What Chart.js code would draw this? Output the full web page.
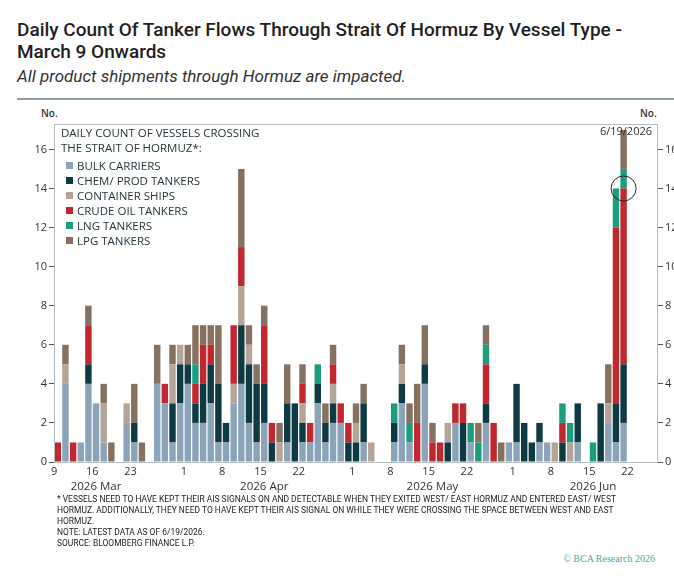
<!DOCTYPE html>
<html>
<head>
<meta charset="utf-8">
<script src="https://cdn.jsdelivr.net/npm/chart.js@4.4.1/dist/chart.umd.min.js"></script>
<style>
  body { margin: 0; width: 674px; height: 579px; background: #fff; position: relative; overflow: hidden; font-family: Roboto, sans-serif; }
  .title { position: absolute; left: 17px; top: 19px; font: 500 19px Roboto; line-height: 22px; color: #1f1f1f; white-space: nowrap; }
  .sub { position: absolute; left: 17px; top: 66px; font: italic 17px Roboto; line-height: 20px; color: #333; white-space: nowrap; }
  .rule { position: absolute; left: 17px; right: 0; top: 98px; height: 2px; background: #8e9ea4; }
  .no { position: absolute; top: 106px; font: 600 10px "Open Sans"; color: #333; }
  #wrap { position: absolute; left: 0; top: 100px; width: 674px; height: 400px; }
  .legend { position: absolute; left: 61px; top: 126px; font: 11.5px "Open Sans"; color: #26363d; line-height: 14.5px; white-space: nowrap; }
  .legend .item { position: relative; padding-left: 16px; height: 15px; line-height: 15px; }
  .legend .sw { position: absolute; left: 5px; top: 4px; width: 7px; height: 7px; }
  .legend .head { margin-bottom: 3px; }
  .foot { position: absolute; left: 57px; top: 494px; font: 9px Roboto, sans-serif; line-height: 11px; color: #222; white-space: nowrap; transform-origin: 0 0; }
  .foot span { display: block; }
  .bca { position: absolute; right: 19px; top: 553px; font: 10px "Liberation Serif", serif; color: #3fae9f; }
</style>
</head>
<body>
<div class="title">Daily Count Of Tanker Flows Through Strait Of Hormuz By Vessel Type -<br>March 9 Onwards</div>
<div class="sub">All product shipments through Hormuz are impacted.</div>
<div class="rule"></div>
<div class="no" style="left:41px">No.</div>
<div class="no" style="left:640px">No.</div>
<div id="wrap"><canvas id="chart" width="674" height="400"></canvas></div>
<div class="legend" id="legend">
  <div class="head">DAILY COUNT OF VESSELS CROSSING<br>THE STRAIT OF HORMUZ*:</div>
</div>
<div class="foot" id="foot"><span id="foot1" style="display:inline-block">* VESSELS NEED TO HAVE KEPT THEIR AIS SIGNALS ON AND DETECTABLE WHEN THEY EXITED WEST/ EAST HORMUZ AND ENTERED EAST/ WEST</span><span>HORMUZ. ADDITIONALLY, THEY NEED TO HAVE KEPT THEIR AIS SIGNAL ON WHILE THEY WERE CROSSING THE SPACE BETWEEN WEST AND EAST</span><span>HORMUZ.</span><span>NOTE: LATEST DATA AS OF 6/19/2026.</span><span>SOURCE: BLOOMBERG FINANCE L.P.</span></div>
<div class="bca">© BCA Research 2026</div>
<script>
// business days, Mar 9 - Jun 25 2026
const days = [
  "03-09","03-10","03-11","03-12","03-13","03-16","03-17","03-18","03-19","03-20",
  "03-23","03-24","03-25","03-26","03-27","03-30","03-31","04-01","04-02","04-03",
  "04-06","04-07","04-08","04-09","04-10","04-13","04-14","04-15","04-16","04-17",
  "04-20","04-21","04-22","04-23","04-24","04-27","04-28","04-29","04-30","05-01",
  "05-04","05-05","05-06","05-07","05-08","05-11","05-12","05-13","05-14","05-15",
  "05-18","05-19","05-20","05-21","05-22","05-25","05-26","05-27","05-28","05-29",
  "06-01","06-02","06-03","06-04","06-05","06-08","06-09","06-10","06-11","06-12",
  "06-15","06-16","06-17","06-18","06-19","06-22","06-23","06-24","06-25"
];

const bulk = [
  0,4,0,1,4,3,1,0,0,2, 1,0,0,4,3,1,3,4,2,2, 3,1,1,3,4,2,1,2,0,0,
  1,0,1,1,3,1,2,2,0,0, 1,0,0,0,1,3,1,0,4,0, 0,0,2,0,1,0,2,0,0,1,
  1,0,0,1,1,0,0,0,1,0, 0,0,2,1,2,0,0,0,0
];
const chem = [
  0,0,0,0,1,0,0,0,0,0, 1,0,0,0,0,2,2,1,1,2, 2,3,1,0,3,3,3,2,1,0,
  2,3,1,0,1,1,1,0,1,1, 2,0,0,0,1,1,0,0,1,0, 0,1,0,2,0,0,1,0,0,0,
  3,2,1,1,0,0,1,0,2,0, 0,3,0,2,3,0,0,0,0
];
const container = [
  0,1,0,0,0,0,2,0,0,1, 0,0,0,0,0,2,1,0,0,0, 0,0,0,1,2,1,0,0,0,1,
  0,0,1,0,0,0,1,0,0,1, 0,1,0,0,0,1,0,0,0,0, 0,1,0,0,0,0,0,0,0,0,
  0,0,0,0,0,1,0,1,0,0, 0,0,1,0,0,0,0,0,0
];
const crude = [
  1,0,1,0,2,0,0,0,0,0, 0,0,0,0,1,0,0,0,1,2, 1,0,0,3,2,0,0,3,1,0,
  0,0,1,1,0,0,1,1,1,0, 0,0,0,0,0,0,0,2,0,1, 1,0,1,1,0,0,2,2,0,0,
  0,0,0,0,0,0,1,0,0,0, 0,0,0,9,9,0,0,0,0
];
const lng = [
  0,0,0,0,0,0,0,0,0,0, 0,0,0,0,0,0,0,0,1,0, 0,0,0,0,0,0,0,0,0,0,
  0,0,0,0,1,0,0,0,0,0, 0,0,0,0,1,0,1,0,0,0, 0,0,0,0,1,1,1,0,0,0,
  0,0,0,0,0,0,1,1,0,0, 1,0,0,2,1,0,0,0,0
];
const lpg = [
  0,1,0,0,1,0,1,1,0,0, 2,1,0,2,0,1,0,1,2,1, 1,3,0,0,4,1,1,1,0,1,
  2,0,1,0,0,1,1,0,0,1, 1,0,0,0,0,1,1,2,2,1, 0,0,0,0,0,1,1,0,1,0,
  0,0,0,0,0,0,0,0,0,0, 0,0,2,0,2,0,0,0,0
];

const seriesNames = ["BULK CARRIERS", "CHEM/ PROD TANKERS", "CONTAINER SHIPS", "CRUDE OIL TANKERS", "LNG TANKERS", "LPG TANKERS"];
const seriesColors = ["#8ba4ba", "#0e3a43", "#b5a598", "#c1272d", "#1b9e7e", "#86705f"];
const tickDays = ["03-09","03-16","03-23","04-01","04-08","04-15","04-22","05-01","05-08","05-15","05-22","06-01","06-08","06-15","06-22"];
const monthLabels = ["2026 Mar", "2026 Apr", "2026 May", "2026 Jun"];
const monthAnchors = ["03-16", "04-15", "05-15", "06-15"];
const latestDay = "06-19";
const latestLabel = "6/19/2026";
const circledValue = 14;

const tickFont = { family: "Open Sans", size: 11 };
const textColor = "#333";

// footnote is set in a narrow face in the original, squeeze it to the same width
const foot = document.getElementById("foot");
const w1 = document.getElementById("foot1").getBoundingClientRect().width;
foot.style.transform = "scaleX(" + (559 / w1) + ")";

// legend (html)
const legendEl = document.getElementById("legend");
seriesNames.forEach((name, i) => {
  const row = document.createElement("div");
  row.className = "item";
  row.innerHTML = '<span class="sw" style="background:' + seriesColors[i] + '"></span>' + name;
  legendEl.appendChild(row);
});

// frame, month labels, latest date note and circle
const extras = {
  id: "extras",
  afterDraw(chart) {
    const { ctx, chartArea: a, scales } = chart;
    ctx.save();
    ctx.strokeStyle = "#b7bfc3";
    ctx.lineWidth = 1;
    ctx.strokeRect(a.left + 0.5, a.top + 0.5, a.right - a.left - 1, a.bottom - a.top);

    ctx.fillStyle = textColor;
    ctx.font = "11.5px 'Open Sans'";
    ctx.textAlign = "center";
    ctx.textBaseline = "middle";
    monthLabels.forEach((m, i) => {
      ctx.fillText(m, scales.x.getPixelForValue(days.indexOf(monthAnchors[i])), a.bottom + 25);
    });

    ctx.font = "11px 'Open Sans'";
    ctx.textAlign = "right";
    ctx.fillText(latestLabel, a.right - 6, a.top + 8);

    ctx.beginPath();
    ctx.strokeStyle = "#2a2a2a";
    ctx.arc(scales.x.getPixelForValue(days.indexOf(latestDay)), scales.y.getPixelForValue(circledValue), 12.5, 0, Math.PI * 2);
    ctx.stroke();
    ctx.restore();
  }
};

const yTicks = {
  stepSize: 2, includeBounds: false, padding: 2, font: tickFont, color: textColor
};

const ctx = document.getElementById("chart").getContext("2d");
const chart = new Chart(ctx, {
  type: "bar",
  data: {
    labels: days,
    datasets: [bulk, chem, container, crude, lng, lpg].map((d, i) => ({
      label: seriesNames[i],
      data: d,
      backgroundColor: seriesColors[i],
      borderWidth: 0,
      barPercentage: 0.84,
      categoryPercentage: 1,
      yAxisID: "y"
    }))
  },
  options: {
    responsive: false,
    animation: false,
    layout: { padding: { top: 24, left: 0, right: 0, bottom: 0 } },
    plugins: { legend: { display: false }, tooltip: { enabled: false } },
    scales: {
      x: {
        stacked: true,
        offset: true,
        grid: { display: false, drawTicks: false },
        border: { display: false },
        ticks: {
          autoSkip: false, maxRotation: 0, labelOffset: -3.8, padding: 3,
          font: tickFont, color: textColor,
          callback: function (v) {
            const d = days[v];
            return tickDays.includes(d) ? String(parseInt(d.slice(3), 10)) : "";
          }
        },
        afterFit: s => { s.height = 38; }
      },
      y: {
        stacked: true, min: 0, max: 17.3,
        ticks: yTicks,
        grid: { drawOnChartArea: false, tickLength: 5, color: "#555" },
        border: { display: false },
        afterFit: s => { s.width = 54; }
      },
      y2: {
        position: "right", min: 0, max: 17.3,
        ticks: yTicks,
        grid: { drawOnChartArea: false, tickLength: 5, color: "#555" },
        border: { display: false },
        afterFit: s => { s.width = 16; }
      }
    }
  },
  plugins: [extras]
});
</script>
</body>
</html>
